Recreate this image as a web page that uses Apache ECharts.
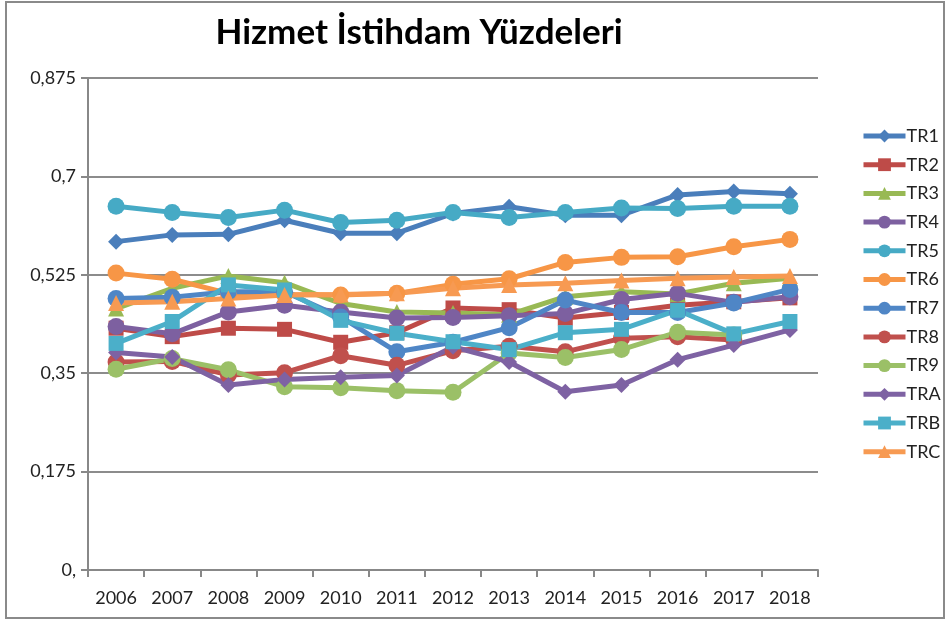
<!DOCTYPE html>
<html>
<head>
<meta charset="utf-8">
<script src="https://cdn.jsdelivr.net/npm/echarts@6/dist/echarts.min.js"></script>
<style>
  html, body { margin: 0; padding: 0; background: #fff; }
  #chart { width: 947px; height: 622px; }
</style>
</head>
<body>
<div id="chart"></div>
<script>
// yıllar
const years = ['2006', '2007', '2008', '2009', '2010', '2011', '2012', '2013', '2014', '2015', '2016', '2017', '2018'];

// seriler
const TR1 = [0.584, 0.596, 0.597, 0.622, 0.599, 0.599, 0.634, 0.646, 0.631, 0.631, 0.667, 0.673, 0.669];
const TR2 = [0.430, 0.415, 0.430, 0.428, 0.405, 0.422, 0.466, 0.463, 0.448, 0.458, 0.471, 0.477, 0.484];
const TR3 = [0.465, 0.501, 0.523, 0.511, 0.474, 0.459, 0.457, 0.454, 0.486, 0.495, 0.491, 0.510, 0.519];
const TR4 = [0.433, 0.420, 0.459, 0.471, 0.459, 0.448, 0.449, 0.452, 0.456, 0.481, 0.492, 0.476, 0.486];
const TR5 = [0.647, 0.636, 0.627, 0.640, 0.618, 0.622, 0.636, 0.627, 0.636, 0.644, 0.643, 0.647, 0.647];
const TR6 = [0.528, 0.517, 0.492, 0.490, 0.489, 0.492, 0.508, 0.518, 0.547, 0.556, 0.557, 0.575, 0.588];
const TR7 = [0.483, 0.485, 0.495, 0.495, 0.450, 0.388, 0.405, 0.431, 0.480, 0.458, 0.458, 0.475, 0.499];
const TR8 = [0.370, 0.371, 0.347, 0.351, 0.381, 0.364, 0.390, 0.398, 0.388, 0.412, 0.415, 0.409, null];
const TR9 = [0.357, 0.376, 0.356, 0.326, 0.324, 0.319, 0.316, 0.386, 0.378, 0.392, 0.423, 0.418, null];
const TRA = [0.387, 0.379, 0.329, 0.339, 0.343, 0.346, 0.397, 0.370, 0.317, 0.329, 0.374, 0.400, 0.427];
const TRB = [0.403, 0.442, 0.507, 0.498, 0.444, 0.421, 0.406, 0.392, 0.422, 0.428, 0.462, 0.420, 0.442];
const TRC = [0.475, 0.477, 0.483, 0.489, 0.490, 0.492, 0.501, 0.507, 0.510, 0.515, 0.519, 0.521, 0.523];

const seriesNames = ['TR1', 'TR2', 'TR3', 'TR4', 'TR5', 'TR6', 'TR7', 'TR8', 'TR9', 'TRA', 'TRB', 'TRC'];
const seriesData = [TR1, TR2, TR3, TR4, TR5, TR6, TR7, TR8, TR9, TRA, TRB, TRC];
const colors = ['#4a7ebb', '#be4b48', '#98b954', '#7d60a0', '#46aac5', '#f79646',
                '#4f86c6', '#c0504d', '#9bc067', '#7e62a3', '#4bafc9', '#f79a52'];
const symbols = ['diamond', 'rect', 'triangle', 'circle', 'circle', 'circle',
                 'circle', 'circle', 'circle', 'diamond', 'rect', 'triangle'];

const chart = echarts.init(document.getElementById('chart'), null, { renderer: 'canvas' });

const font = 'Lato, "Open Sans", sans-serif';

const series = seriesNames.map((name, i) => ({
    name: name,
    type: 'line',
    data: seriesData[i],
    symbol: symbols[i],
    symbolSize: symbols[i] === 'circle' ? 17 : (symbols[i] === 'rect' ? 15 : 16),
    connectNulls: false,
    lineStyle: { width: 5, color: colors[i] },
    itemStyle: { color: colors[i] },
    emphasis: { disabled: true },
    animation: false
}));

chart.setOption({
    animation: false,
    color: colors,
    graphic: [
        {
            type: 'rect',
            shape: { x: 6, y: 2, width: 938, height: 616 },
            style: { fill: 'none', stroke: '#8a8a8a', lineWidth: 2 },
            silent: true
        },
        {
            type: 'text',
            x: 419, y: 33,
            style: {
                text: 'Hizmet İstihdam Yüzdeleri',
                font: 'bold 35px ' + font,
                fill: '#000',
                textAlign: 'center',
                textVerticalAlign: 'middle'
            }
        }
    ],
    legend: {
        orient: 'vertical',
        left: 856,
        top: 122,
        itemWidth: 42,
        itemHeight: 16,
        itemGap: 10.7,
        data: seriesNames,
        lineStyle: { width: 5 },
        textStyle: { fontFamily: font, fontSize: 18, lineHeight: 18, color: '#222', padding: [0, 0, 0, -4] }
    },
    grid: { left: 88, right: 129, top: 78, bottom: 52, containLabel: false },
    xAxis: {
        type: 'category',
        data: years,
        boundaryGap: true,
        axisLine: { lineStyle: { color: '#888', width: 2 } },
        axisTick: { show: true, interval: 0, length: 7, lineStyle: { color: '#888', width: 2 } },
        axisLabel: { interval: 0, margin: 19, fontFamily: font, fontSize: 18, color: '#222' },
        splitLine: { show: false }
    },
    yAxis: {
        type: 'value',
        min: 0,
        max: 0.875,
        interval: 0.175,
        axisLine: { show: true, lineStyle: { color: '#888', width: 2 } },
        axisTick: { show: true, length: 7, lineStyle: { color: '#888', width: 2 } },
        axisLabel: {
            margin: 12,
            fontFamily: font,
            fontSize: 18,
            color: '#222',
            formatter: v => v === 0 ? '0,' : String(+v.toFixed(3)).replace('.', ',')
        },
        splitLine: { show: true, lineStyle: { color: '#8c8c8c', width: 2 } }
    },
    series: series
});
</script>
</body>
</html>
